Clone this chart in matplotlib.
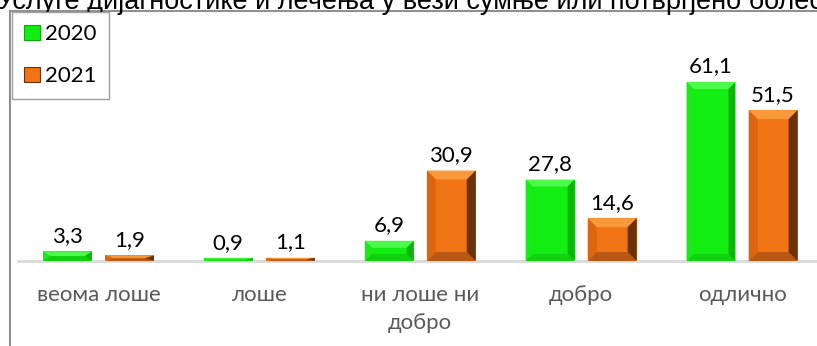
import matplotlib; matplotlib.use('Agg')
import matplotlib.pyplot as plt
from matplotlib.patches import Polygon, Patch
from matplotlib.lines import Line2D
import numpy as np

plt.rcParams['font.family'] = ['Lato', 'Noto Sans', 'DejaVu Sans']

TITLE = 'Услуге дијагностике и лечења у вези сумње или потврђено болесних'
categories = ['веома лоше', 'лоше', 'ни лоше ни\nдобро', 'добро', 'одлично']
years = ['2020', '2021']
vals_2020 = [3.3, 0.9, 6.9, 27.8, 61.1]
vals_2021 = [1.9, 1.1, 30.9, 14.6, 51.5]

GREEN = '#12ee12'
ORANGE = '#f07414'
# bevel shades: top, bottom, left, right
GREEN_BEVEL = ('#4cfa4c', '#10d010', '#1aea1a', '#0cb40c')
ORANGE_BEVEL = ('#f89a3c', '#b85812', '#dc6610', '#6a3206')

W, H, DPI = 817, 346, 100
fig = plt.figure(figsize=(W / DPI, H / DPI), dpi=DPI)
ax = fig.add_axes([18 / W, 85 / H, 804.5 / W, 205 / H])

x = np.arange(len(categories))
bw, off = 0.304, 0.193
b20 = ax.bar(x - off, vals_2020, bw, color=GREEN, zorder=2)
b21 = ax.bar(x + off, vals_2021, bw, color=ORANGE, zorder=2)

ax.set_xlim(-0.5, len(categories) - 0.5)
ax.set_ylim(0, 70)


def bevel(ax, bars, shades, px=9):
    # fake the 3D bevel of the bars with four trapezoids per bar
    fig.canvas.draw()
    p0 = ax.transData.transform((0, 0))
    p1 = ax.transData.transform((1, 1))
    dx = px / (p1[0] - p0[0])
    dy = px / (p1[1] - p0[1])
    top, bot, left, right = shades
    for r in bars:
        x0, w, h = r.get_x(), r.get_width(), r.get_height()
        x1 = x0 + w
        by = min(dy, h / 2)
        bx = dx
        polys = [
            ([(x0, h), (x1, h), (x1 - bx, h - by), (x0 + bx, h - by)], top),
            ([(x0, 0), (x1, 0), (x1 - bx, by), (x0 + bx, by)], bot),
            ([(x0, 0), (x0 + bx, by), (x0 + bx, h - by), (x0, h)], left),
            ([(x1, 0), (x1 - bx, by), (x1 - bx, h - by), (x1, h)], right),
        ]
        for pts, c in polys:
            ax.add_patch(Polygon(pts, closed=True, color=c, lw=0, zorder=3))


bevel(ax, b20, GREEN_BEVEL, px=7)
bevel(ax, b21, ORANGE_BEVEL, px=9)

for bars, vals in ((b20, vals_2020), (b21, vals_2021)):
    for r, v in zip(bars, vals):
        ax.annotate(f'{v:.1f}'.replace('.', ','),
                    (r.get_x() + r.get_width() / 2, v),
                    textcoords='offset points', xytext=(0, 4),
                    ha='center', va='bottom', fontsize=16, color='#000000')

ax.set_xticks(x)
ax.set_xticklabels(categories, fontsize=16, color='#595959', linespacing=1.55)
ax.tick_params(axis='x', length=0, pad=17)
ax.set_yticks([])
for s in ('top', 'right', 'left'):
    ax.spines[s].set_visible(False)
ax.spines['bottom'].set_color('#d9d9d9')
ax.spines['bottom'].set_linewidth(2)

# outer chart frame, only its top and left edges are in view
fig.add_artist(Line2D([10 / W, 1], [1 - 11 / H, 1 - 11 / H], color='#909090', lw=1.5))
fig.add_artist(Line2D([10 / W, 10 / W], [0, 1 - 11 / H], color='#909090', lw=1.5))

fig.text(-3 / W, 1 - 9 / H, TITLE, fontsize=19.5, ha='left', va='baseline',
         family=['Liberation Sans', 'DejaVu Sans'], color='#000000')

handles = [Patch(facecolor=GREEN, edgecolor='#0aa80a', lw=0.8),
           Patch(facecolor=ORANGE, edgecolor='#6a3206', lw=0.8)]
fig.legend(handles, years, loc='upper left',
           bbox_to_anchor=(12 / W, 1 - 12 / H), borderaxespad=0,
           fontsize=16, handlelength=0.7, handleheight=0.7,
           handletextpad=0.25, labelspacing=1.0, borderpad=0.55,
           frameon=True, fancybox=False, edgecolor='#a0a0a0', framealpha=1)

fig.savefig('out.png', dpi=DPI)
